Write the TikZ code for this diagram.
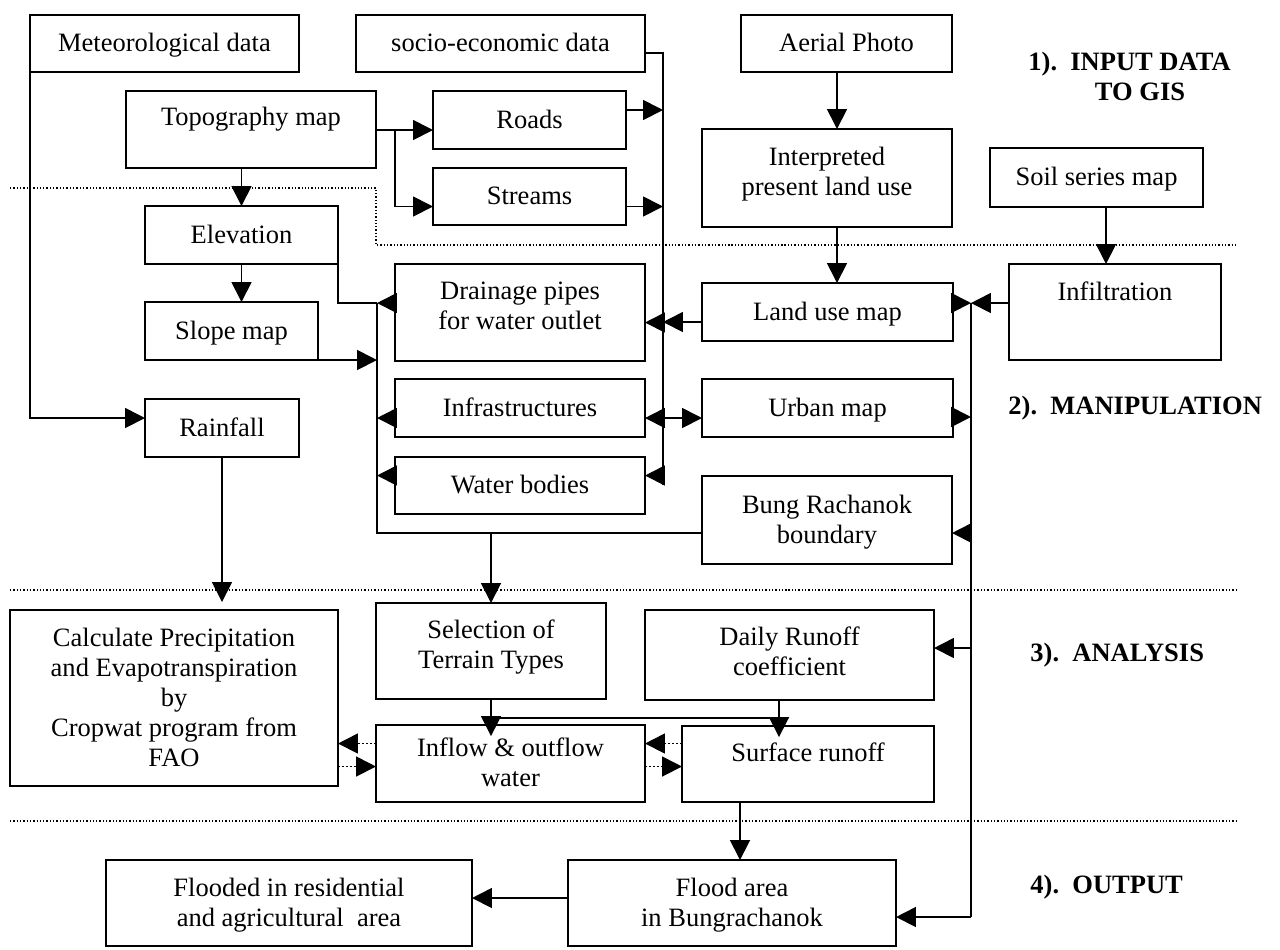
\documentclass[tikz,border=0pt]{standalone}
\usepackage{fontspec}
\setmainfont{Liberation Serif}
\usetikzlibrary{arrows.meta,calc}
\newcommand\bx[7]{%
  \node[box, minimum width={(#4-#2)*0.4528pt}, minimum height={(#5-#3)*0.4528pt}] (#1) at ({(#2+#4)/2},{(#3+#5)/2}) {};
  \node[txt] (#1-t) at ([shift={(0,-#6)}]#1.center) {\strut#7\strut};}
\begin{document}
\begin{tikzpicture}[x=0.4528pt,y=-0.4528pt,
  box/.style={draw,line width=0.8pt,inner sep=0pt,outer sep=0pt,fill=white},
  txt/.style={align=center,inner sep=0pt,yshift=-1pt,font=\fontsize{12}{13.6}\selectfont},
  lbl/.style={inner sep=0pt,font=\fontsize{12}{13.6}\selectfont\bfseries},
  ln/.style={line width=0.8pt},
  arr/.style={line width=0.8pt,-{Triangle[length=9pt,width=9pt]}},
  arrs/.style={line width=0.8pt,{Triangle[length=9pt,width=9pt]}-{Triangle[length=9pt,width=9pt]}},
  dl/.style={line width=0.6pt,dash pattern=on 0.6pt off 0.9pt},
  darr/.style={arr,dash pattern=on 0.8pt off 1pt}]
\useasboundingbox (0,0) rectangle (1280,949);

% dotted section separators
\draw[dl] (10,188) -- (376,188) -- (376,245) -- (1237,245);
\draw[dl] (10,590) -- (1237,590);
\draw[dl] (10,821) -- (1237,821);

% boxes
\bx{met}{30}{15}{299}{72}{0}{Meteorological data}
\bx{soc}{356}{15}{645}{72}{0}{socio-economic data}
\bx{aer}{741}{15}{952}{72}{0}{Aerial Photo}
\bx{topo}{126}{91}{376}{168}{12}{Topography map}
\bx{roads}{433}{91}{626}{149}{0}{Roads}
\bx{streams}{433}{168}{626}{225}{0}{Streams}
\bx{interp}{702}{129}{952}{227}{6}{Interpreted\\present land use}
\bx{soil}{990}{148}{1203}{207}{0}{Soil series map}
\bx{elev}{145}{206}{338}{264}{0}{Elevation}
\bx{slope}{145}{302}{318}{360}{0}{Slope map}
\bx{rain}{145}{399}{299}{457}{0}{Rainfall}
\bx{drain}{395}{264}{645}{361}{6}{Drainage pipes\\for water outlet}
\bx{infra}{395}{379}{645}{437}{0}{Infrastructures}
\bx{water}{395}{457}{645}{514}{0}{Water bodies}
\bx{landuse}{702}{283}{953}{341}{0}{Land use map}
\bx{infil}{1009}{264}{1221}{360}{20}{Infiltration}
\bx{urban}{702}{379}{953}{437}{0}{Urban map}
\bx{bung}{702}{476}{952}{564}{0}{Bung Rachanok\\boundary}
\bx{calc}{10}{610}{338}{786}{0}{Calculate Precipitation\\and Evapotranspiration\\by\\Cropwat program from\\FAO}
\bx{sel}{376}{603}{606}{699}{6}{Selection of\\Terrain Types}
\bx{daily}{645}{610}{934}{700}{3}{Daily Runoff\\coefficient}
\bx{inflow}{376}{725}{645}{802}{0}{Inflow \& outflow\\water}
\bx{surf}{682}{726}{934}{802}{11}{Surface runoff}
\bx{flood}{568}{860}{896}{946}{0}{Flood area\\in Bungrachanok}
\bx{flooded}{106}{860}{472}{946}{0}{Flooded in residential\\and agricultural~~area}

% section labels
\node[lbl,anchor=west] (l1) at (1028,64) {1).~~INPUT DATA};
\node[lbl] (l1b) at (1140,92) {TO GIS};
\node[lbl,anchor=west] (l2) at (1008,408) {2).~~MANIPULATION};
\node[lbl,anchor=west] (l3) at (1030,655) {3).~~ANALYSIS};
\node[lbl,anchor=west] (l4) at (1030,887) {4).~~OUTPUT};

% junction coordinates
\coordinate (sb0) at (663,53);
\coordinate (sb1) at (663,485);
\coordinate (tb) at (395,130);
\coordinate (lb1) at (377,303);
\coordinate (lb2) at (377,533);
\coordinate (rb1) at (971,303);
\coordinate (rb2) at (971,917);
\coordinate (dj) at (779,718);
\coordinate (ax) at (837,0);
\coordinate (sx) at (1106,0);
\coordinate (fx) at (740,0);

% input section
\draw[arr] (met.south west) |- ([shift={(0,-10)}]rain.west);
\draw[ln] (soc.east |- sb0) -- (sb0) -- (sb1);
\draw[arr] ([shift={(0,-10)}]roads.east) -- ([shift={(0,-10)}]roads.east -| sb0);
\draw[arr] ([shift={(0,10)}]streams.east) -- ([shift={(0,10)}]streams.east -| sb0);
\draw[arr] (topo.east |- tb) -- (roads.west |- tb);
\draw[arr] (tb) |- ([shift={(0,10)}]streams.west);
\draw[arr] (topo.south -| elev.north) -- (elev.north);
\draw[arr] (elev.south) -- (slope.north -| elev.south);
\draw[arr] (aer.south -| ax) -- (interp.north -| ax);
\draw[arr] (interp.south -| ax) -- (landuse.north -| ax);
\draw[arr] (soil.south -| sx) -- (infil.north -| sx);

% manipulation section, left bus
\draw[ln] (elev.south east) |- (lb1);
\draw[arr] (drain.west |- lb1) -- (lb1);
\draw[arr] (slope.south east) -- (slope.south east -| lb1);
\draw[ln] (lb1) -- (lb2) -- (bung.west |- lb2);
\draw[arr] ([shift={(0,10)}]infra.west) -- ([shift={(0,10)}]infra.west -| lb1);
\draw[arr] ([shift={(0,-10)}]water.west) -- ([shift={(0,-10)}]water.west -| lb1);
\draw[arr] (sel.north |- lb2) -- (sel.north);

% socio-economic bus
\draw[arr] ([shift={(0,10)}]drain.east -| sb0) -- ([shift={(0,10)}]drain.east);
\draw[arr] ([shift={(0,10)}]landuse.west) -- ([shift={(0,10)}]landuse.west -| sb0);
\draw[arrs] ([shift={(0,10)}]infra.east) -- ([shift={(0,10)}]urban.west);
\draw[arr] ([shift={(0,-10)}]water.east -| sb0) -- ([shift={(0,-10)}]water.east);

% right bus
\draw[ln] (rb1) -- (rb2);
\draw[arr] (landuse.east |- rb1) -- (rb1);
\draw[arr] (infil.west |- rb1) -- (rb1);
\draw[arr] ([shift={(0,9)}]urban.east) -- ([shift={(0,9)}]urban.east -| rb1);
\draw[arr] (rb1 |- lb2) -- (bung.east |- lb2);
\draw[arr] ([shift={(0,-7)}]daily.east -| rb1) -- ([shift={(0,-7)}]daily.east);
\draw[arr] (rb2) -- (flood.east |- rb2);

% analysis section
\draw[arr] (rain.south) -- ([shift={(0,-8)}]calc.north -| rain.south);
\draw[ln] (sel.south |- dj) -- (dj);
\draw[arr,shorten >=-5pt] (sel.south) -- (inflow.north -| sel.south);
\draw[arr,shorten >=-5pt] (daily.south -| dj) -- (surf.north -| dj);
\draw[darr] ([shift={(0,-20)}]inflow.west) -- ([shift={(0,-20)}]inflow.west -| calc.east);
\draw[darr] ([shift={(0,3)}]inflow.west -| calc.east) -- ([shift={(0,3)}]inflow.west);
\draw[darr] ([shift={(0,-20)}]inflow.east -| surf.west) -- ([shift={(0,-20)}]inflow.east);
\draw[darr] ([shift={(0,3)}]inflow.east) -- ([shift={(0,3)}]inflow.east -| surf.west);

% output section
\draw[arr] (surf.south -| fx) -- (flood.north -| fx);
\draw[arr] ([shift={(0,-5)}]flood.west) -- ([shift={(0,-5)}]flood.west -| flooded.east);
\end{tikzpicture}
\end{document}
